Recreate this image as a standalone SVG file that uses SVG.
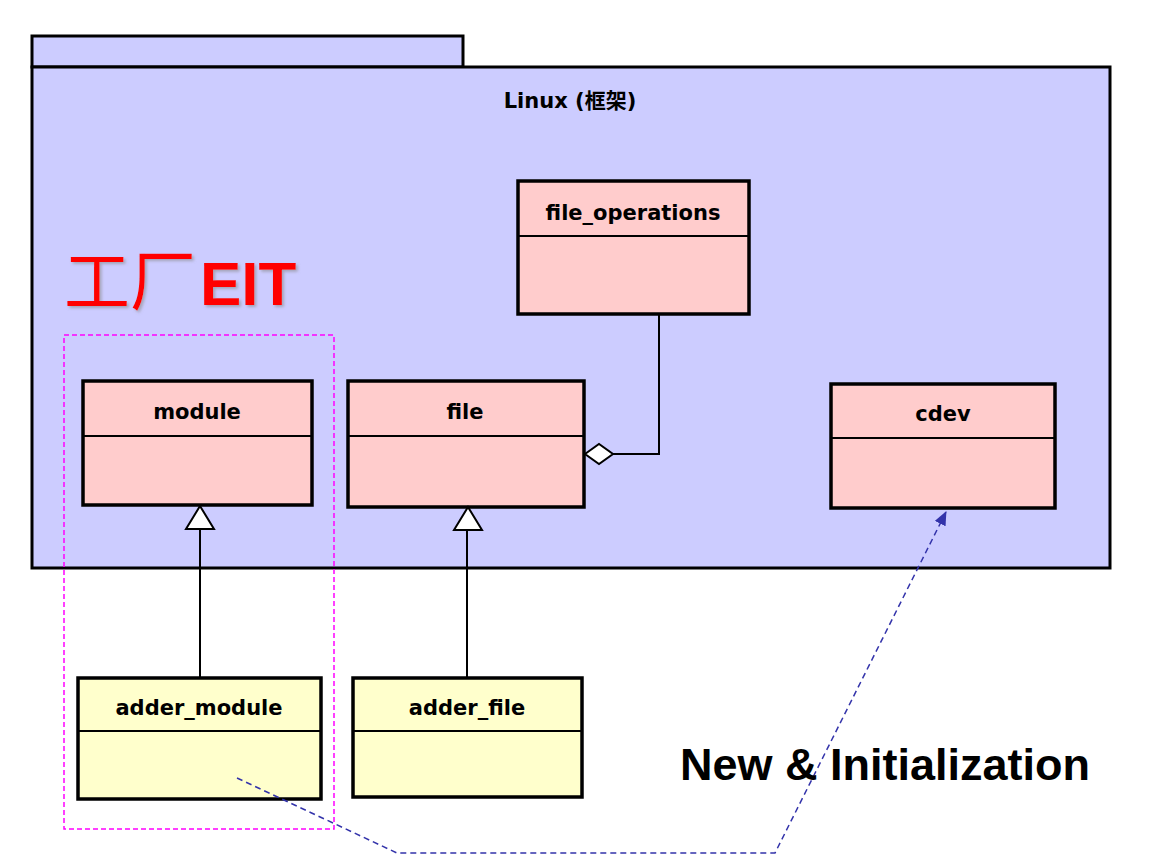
<svg xmlns="http://www.w3.org/2000/svg" width="1164" height="864" viewBox="0 0 1164 864">
<style>
.pkg{fill:#ccccff;stroke:#000;stroke-width:3}
.cls{stroke:#000;stroke-width:3.5}
.pink{fill:#ffcccc}
.yel{fill:#ffffcc}
.sep{stroke:#000;stroke-width:2}
.lbl{font-family:"DejaVu Sans","Noto Sans CJK SC",sans-serif;font-weight:bold;font-size:21px;text-anchor:middle;fill:#000}
.ln{fill:none;stroke:#000;stroke-width:2}
.dep{fill:none;stroke:#3333aa;stroke-width:1.5;stroke-dasharray:6,4}
</style>
<defs>
<marker id="tri" markerWidth="14" markerHeight="12" refX="13" refY="6" orient="auto" markerUnits="userSpaceOnUse">
<path d="M0,0 L14,6 L0,12 Z" fill="#3333aa"/>
</marker>
<filter id="sh" x="-10%" y="-10%" width="120%" height="130%">
<feDropShadow dx="2" dy="2" stdDeviation="1.5" flood-color="#888" flood-opacity="0.6"/>
</filter>
</defs>
<rect width="1164" height="864" fill="#fff"/>
<g id="package-linux">
<rect class="pkg" x="32" y="36" width="431" height="31"/>
<rect class="pkg" x="32" y="67" width="1078" height="501"/>
<text class="lbl" x="570" y="108" font-size="22">Linux (框架)</text>
</g>
<g id="label-eit">
<text x="64" y="305" filter="url(#sh)" fill="#ff0000" font-size="66" font-family="'Noto Sans CJK SC',sans-serif">工厂<tspan dx="4" font-family="'Liberation Sans',Arial,sans-serif" font-weight="bold" font-size="62">EIT</tspan></text>
</g>
<g id="group-factory">
<rect x="64" y="335" width="270" height="494" fill="none" stroke="#ff00ff" stroke-width="1.5" stroke-dasharray="5,3"/>
</g>
<g id="node-file_operations">
<rect class="cls pink" x="518" y="181" width="231" height="133"/>
<line class="sep" x1="518" y1="236" x2="749" y2="236"/>
<text class="lbl" x="633" y="220">file_operations</text>
</g>
<g id="node-module">
<rect class="cls pink" x="83" y="381" width="229" height="124"/>
<line class="sep" x1="83" y1="436" x2="312" y2="436"/>
<text class="lbl" x="197" y="419">module</text>
</g>
<g id="node-file">
<rect class="cls pink" x="348" y="381" width="236" height="126"/>
<line class="sep" x1="348" y1="436" x2="584" y2="436"/>
<text class="lbl" x="465" y="419">file</text>
</g>
<g id="node-cdev">
<rect class="cls pink" x="831" y="384" width="224" height="124"/>
<line class="sep" x1="831" y1="438" x2="1055" y2="438"/>
<text class="lbl" x="943" y="421">cdev</text>
</g>
<g id="node-adder_module">
<rect class="cls yel" x="78" y="678" width="243" height="121"/>
<line class="sep" x1="78" y1="731" x2="321" y2="731"/>
<text class="lbl" x="199" y="715">adder_module</text>
</g>
<g id="node-adder_file">
<rect class="cls yel" x="353" y="678" width="229" height="119"/>
<line class="sep" x1="353" y1="731" x2="582" y2="731"/>
<text class="lbl" x="467" y="715">adder_file</text>
</g>
<g id="connectors">
<line class="ln" x1="200" y1="678" x2="200" y2="529"/>
<path d="M200,506 L214,529 L186,529 Z" fill="#fff" stroke="#000" stroke-width="2"/>
<line class="ln" x1="467" y1="678" x2="467" y2="530"/>
<path d="M468,507 L482,530 L454,530 Z" fill="#fff" stroke="#000" stroke-width="2"/>
<polyline class="ln" points="659,314 659,454 613,454"/>
<path d="M585,454 L599,444 L613,454 L599,464 Z" fill="#fff" stroke="#000" stroke-width="2"/>
<polyline class="dep" points="237,778 397,853 775,853 946,512" marker-end="url(#tri)"/>
</g>
<g id="note">
<text x="680" y="780" font-family="'Liberation Sans',Arial,sans-serif" font-weight="bold" font-size="45" fill="#000">New &amp; Initialization</text>
</g>
</svg>
